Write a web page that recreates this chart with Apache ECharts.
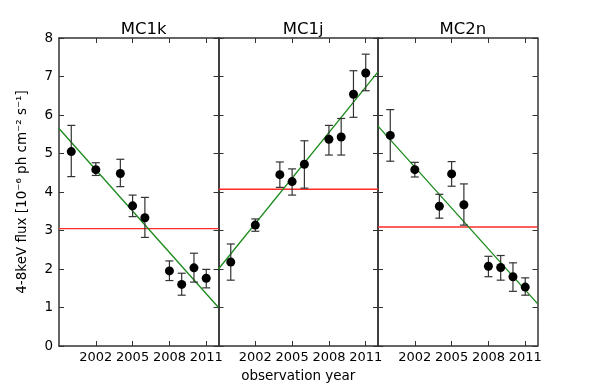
<!DOCTYPE html>
<html>
<head>
<meta charset="utf-8">
<script src="https://cdn.jsdelivr.net/npm/echarts@6/dist/echarts.min.js"></script>
<style>
  html, body { margin: 0; padding: 0; background: #fff; }
  #chart { width: 598px; height: 385px; }
</style>
</head>
<body>
<div id="chart"></div>
<script>
// panel titles
const panels = ['MC1k', 'MC1j', 'MC2n'];
const yearTicks = [2002, 2005, 2008, 2011];

// MC1k
const yearsA = [2000, 2002, 2004, 2005, 2006, 2008, 2009, 2010, 2011];
const fluxA  = [5.05, 4.58, 4.48, 3.64, 3.33, 1.95, 1.60, 2.03, 1.76];
const lowA   = [4.40, 4.43, 4.14, 3.36, 2.82, 1.70, 1.32, 1.66, 1.51];
const highA  = [5.73, 4.76, 4.85, 3.92, 3.86, 2.21, 1.89, 2.41, 1.99];
const fitA   = [5.65, 1.00];   // linear fit at 1999 and 2012
const meanA  = 3.05;

// MC1j
const yearsB = [2000, 2002, 2004, 2005, 2006, 2008, 2009, 2010, 2011];
const fluxB  = [2.18, 3.14, 4.45, 4.27, 4.72, 5.37, 5.43, 6.54, 7.09];
const lowB   = [1.71, 2.98, 4.12, 3.92, 4.10, 4.96, 4.96, 5.94, 6.63];
const highB  = [2.65, 3.30, 4.78, 4.60, 5.33, 5.73, 5.91, 7.15, 7.58];
const fitB   = [2.00, 7.12];
const meanB  = 4.07;

// MC2n
const yearsC = [2000, 2002, 2004, 2005, 2006, 2008, 2009, 2010, 2011];
const fluxC  = [5.47, 4.58, 3.63, 4.47, 3.67, 2.07, 2.04, 1.80, 1.53];
const lowC   = [4.80, 4.39, 3.32, 4.15, 3.14, 1.80, 1.71, 1.42, 1.32];
const highC  = [6.14, 4.77, 3.94, 4.79, 4.21, 2.33, 2.35, 2.16, 1.77];
const fitC   = [5.71, 1.10];
const meanC  = 3.09;

const xMin = 1999, xMax = 2012;
const sets = [
  { years: yearsA, flux: fluxA, low: lowA, high: highA, fit: fitA, mean: meanA },
  { years: yearsB, flux: fluxB, low: lowB, high: highB, fit: fitB, mean: meanB },
  { years: yearsC, flux: fluxC, low: lowC, high: highC, fit: fitC, mean: meanC }
];

const FONT = 'DejaVu Sans';
const spine = '#333';
const lefts = [59, 218.5, 378];
const W = 159.5;

const chart = echarts.init(document.getElementById('chart'), null, { renderer: 'canvas' });

const grid = [], xAxis = [], yAxis = [], series = [], title = [];

sets.forEach((s, i) => {
  grid.push({ left: lefts[i], top: 38, width: W, height: 308, outerBoundsMode: 'none', containLabel: false });
  title.push({
    text: panels[i], left: lefts[i] + W / 2, top: 16, textAlign: 'center',
    textStyle: { fontFamily: FONT, fontSize: 16.5, fontWeight: 'normal', color: '#000' }
  });
  const tickStyle = { show: true, inside: true, length: 5, lineStyle: { color: spine, width: 1 } };
  // bottom x
  xAxis.push({
    gridIndex: i, type: 'value', min: xMin, max: xMax, position: 'bottom',
    axisLine: { show: true, onZero: false, lineStyle: { color: spine, width: 1.5 } },
    axisTick: Object.assign({ customValues: yearTicks }, tickStyle),
    axisLabel: {
      customValues: yearTicks, hideOverlap: false,
      formatter: v => String(v),
      fontFamily: FONT, fontSize: 13, color: '#000', margin: 5
    },
    splitLine: { show: false },
    name: i === 1 ? 'observation year' : '', nameLocation: 'middle', nameGap: 23,
    nameTextStyle: { fontFamily: FONT, fontSize: 13.5, color: '#000' }
  });
  // top x (ticks only)
  xAxis.push({
    gridIndex: i, type: 'value', min: xMin, max: xMax, position: 'top',
    axisLine: { show: true, onZero: false, lineStyle: { color: spine, width: 1.5 } },
    axisTick: Object.assign({ customValues: yearTicks }, tickStyle),
    axisLabel: { show: false }, splitLine: { show: false }
  });
  // left y
  yAxis.push({
    gridIndex: i, type: 'value', min: 0, max: 8, interval: 1, position: 'left',
    axisLine: { show: true, onZero: false, lineStyle: { color: spine, width: 1.5 } },
    axisTick: tickStyle,
    axisLabel: { show: i === 0, fontFamily: FONT, fontSize: 13.5, color: '#000', margin: 6 },
    splitLine: { show: false },
    name: i === 0 ? '4-8keV flux [10\u207B\u2076 ph cm\u207B\u00B2 s\u207B\u00B9]' : '',
    nameLocation: 'middle', nameRotate: 90, nameGap: 30,
    nameTextStyle: { fontFamily: FONT, fontSize: 13.5, color: '#000' }
  });
  // right y (ticks only)
  yAxis.push({
    gridIndex: i, type: 'value', min: 0, max: 8, interval: 1, position: 'right',
    axisLine: { show: true, onZero: false, lineStyle: { color: spine, width: 1.5 } },
    axisTick: tickStyle,
    axisLabel: { show: false }, splitLine: { show: false }
  });

  const xi = i * 2, yi = i * 2;
  // mean flux (red)
  series.push({
    type: 'line', xAxisIndex: xi, yAxisIndex: yi, symbol: 'none', silent: true,
    data: [[xMin, s.mean], [xMax, s.mean]],
    lineStyle: { color: '#ff2a2a', width: 1.4 }, z: 2
  });
  // linear fit (green)
  series.push({
    type: 'line', xAxisIndex: xi, yAxisIndex: yi, symbol: 'none', silent: true,
    data: [[xMin, s.fit[0]], [xMax, s.fit[1]]],
    lineStyle: { color: '#1a8a1a', width: 1.3 }, z: 3
  });
  // error bars
  series.push({
    type: 'custom', xAxisIndex: xi, yAxisIndex: yi, z: 4,
    data: s.years.map((y, k) => [y, s.low[k], s.high[k]]),
    renderItem: function (params, api) {
      const lo = api.coord([api.value(0), api.value(1)]);
      const hi = api.coord([api.value(0), api.value(2)]);
      const c = 4;
      const st = { stroke: '#333', lineWidth: 1.2, fill: null };
      return {
        type: 'group',
        children: [
          { type: 'line', shape: { x1: lo[0], y1: lo[1], x2: hi[0], y2: hi[1] }, style: st },
          { type: 'line', shape: { x1: lo[0] - c, y1: lo[1], x2: lo[0] + c, y2: lo[1] }, style: st },
          { type: 'line', shape: { x1: hi[0] - c, y1: hi[1], x2: hi[0] + c, y2: hi[1] }, style: st }
        ]
      };
    }
  });
  // points
  series.push({
    type: 'scatter', xAxisIndex: xi, yAxisIndex: yi, z: 5,
    symbol: 'circle', symbolSize: 9,
    itemStyle: { color: '#000', opacity: 1 },
    data: s.years.map((y, k) => [y, s.flux[k]])
  });
});

chart.setOption({
  animation: false,
  backgroundColor: '#fff',
  title: title,
  grid: grid,
  xAxis: xAxis,
  yAxis: yAxis,
  series: series
});
</script>
</body>
</html>
